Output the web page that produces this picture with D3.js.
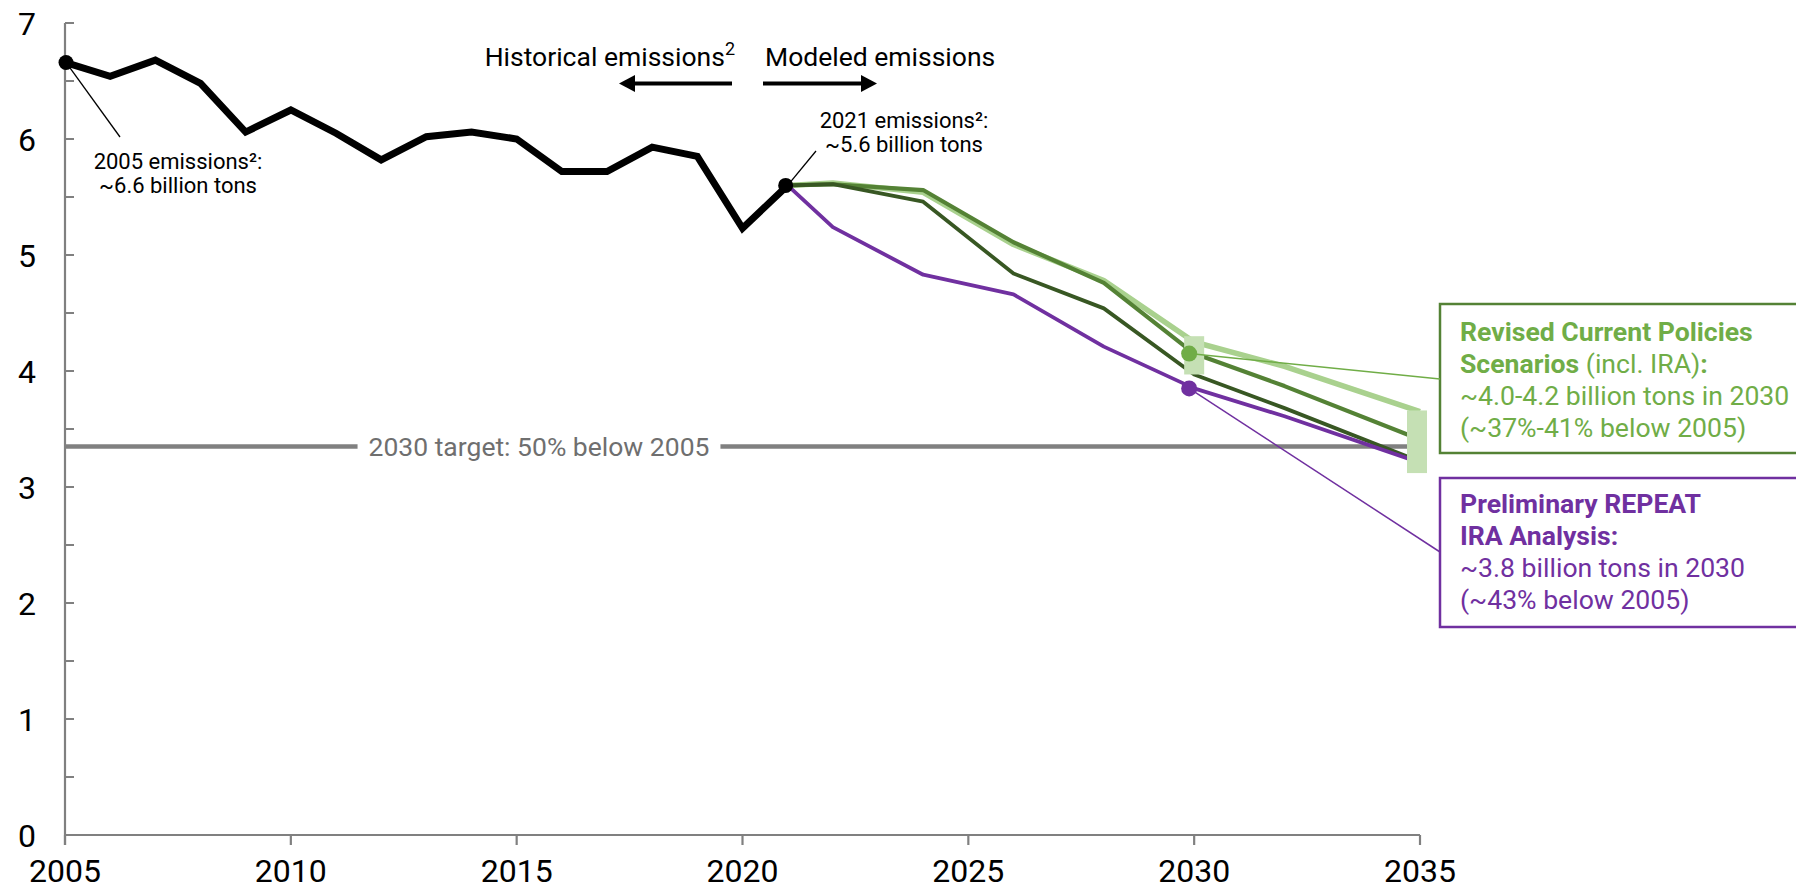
<!DOCTYPE html>
<html><head><meta charset="utf-8">
<script src="https://cdn.jsdelivr.net/npm/d3@7"></script>
<style>
html,body{margin:0;padding:0;background:#fff;}
svg{display:block;font-family:Roboto,"Noto Sans",sans-serif;}
</style></head>
<body>
<svg id="c" width="1796" height="889"></svg>
<script>
// ---- data ----
const histYears = [2005,2006,2007,2008,2009,2010,2011,2012,2013,2014,2015,2016,2017,2018,2019,2020,2021];
const histValues = [6.66,6.54,6.68,6.48,6.06,6.25,6.05,5.82,6.02,6.06,6.00,5.72,5.72,5.93,5.85,5.23,5.60];
const modelYears = [2021,2022,2024,2026,2028,2030,2032,2035];
const repeatValues = [5.60,5.24,4.83,4.66,4.21,3.85,3.61,3.21];
const cpsLight = [5.60,5.62,5.54,5.09,4.78,4.25,4.04,3.65];
const cpsMedium = [5.60,5.61,5.56,5.11,4.76,4.15,3.87,3.41];
const cpsDark = [5.60,5.61,5.46,4.84,4.54,3.97,3.68,3.22];
const rangeYears = [2030,2035];
const rangeLow = [3.97,3.12];
const rangeHigh = [4.30,3.66];
const target2030 = 3.35;
const dot2030Cps = 4.15;
const dot2030Repeat = 3.85;
const xTicks = [2005,2010,2015,2020,2025,2030,2035];
const yTicks = [0,1,2,3,4,5,6,7];
const yMinorTicks = [0.5,1.5,2.5,3.5,4.5,5.5,6.5];

const svg = d3.select("#c");
const x = d3.scaleLinear().domain([2005,2035]).range([65,1420]);
const y = d3.scaleLinear().domain([0,7]).range([835,23]);
const AX = "#808080";

// axes
svg.append("line").attr("x1",x(2005)).attr("x2",x(2035)).attr("y1",y(0)).attr("y2",y(0)).attr("stroke",AX).attr("stroke-width",2.2);
svg.append("line").attr("x1",x(2005)).attr("x2",x(2005)).attr("y1",y(0)+10).attr("y2",y(7)).attr("stroke",AX).attr("stroke-width",2.2);
svg.selectAll(".xt").data(xTicks).enter().append("line")
  .attr("x1",d=>x(d)).attr("x2",d=>x(d)).attr("y1",y(0)).attr("y2",y(0)+10).attr("stroke",AX).attr("stroke-width",2.2);
svg.selectAll(".xl").data(xTicks).enter().append("text")
  .attr("x",d=>x(d)).attr("y",882).attr("text-anchor","middle").attr("font-size",32).attr("fill","#000").text(d=>d);
svg.selectAll(".yt").data(yTicks.concat(yMinorTicks)).enter().append("line")
  .attr("x1",x(2005)).attr("x2",x(2005)+9).attr("y1",d=>y(d)).attr("y2",d=>y(d)).attr("stroke",AX).attr("stroke-width",2);
svg.selectAll(".yl").data(yTicks).enter().append("text")
  .attr("x",36).attr("y",d=>y(d)).attr("dy","0.36em").attr("text-anchor","end").attr("font-size",32).attr("fill","#000").text(d=>d);

// target line
svg.append("line").attr("x1",x(2005)).attr("x2",x(2035)).attr("y1",y(target2030)).attr("y2",y(target2030))
  .attr("stroke","#808080").attr("stroke-width",4.5);
const tl = svg.append("text").attr("x",539).attr("y",y(target2030)).attr("dy","0.36em").attr("text-anchor","middle")
  .attr("font-size",26.5).attr("fill","#6f6f6f").text("2030 target: 50% below 2005");
const bb = tl.node().getBBox();
svg.append("rect").attr("x",bb.x-11).attr("y",bb.y).attr("width",bb.width+22).attr("height",bb.height).attr("fill","#fff");
tl.raise();

// lines
const line = d3.line().x(d=>x(d[0])).y(d=>y(d[1])).curve(d3.curveLinear);
const zip = (a,b)=>a.map((v,i)=>[v,b[i]]);
const series = [
  {v:cpsLight, c:"#a9d18e", w:5.5},
  {v:cpsMedium, c:"#548235", w:4.2},
  {v:cpsDark, c:"#385723", w:3.8},
  {v:repeatValues, c:"#7030a0", w:3.8}
];
series.forEach(s=>{
  svg.append("path").attr("d",line(zip(modelYears,s.v))).attr("fill","none").attr("stroke",s.c)
    .attr("stroke-width",s.w).attr("stroke-linejoin","round").attr("stroke-linecap","butt");
});
svg.append("path").attr("d",line(zip(histYears,histValues))).attr("fill","none").attr("stroke","#000")
  .attr("stroke-width",7).attr("stroke-linejoin","miter");

// range bars
svg.selectAll(".rb").data(rangeYears).enter().append("rect")
  .attr("x",(d,i)=>x(d)-(i?13:10)).attr("width",20)
  .attr("y",(d,i)=>y(rangeHigh[i])).attr("height",(d,i)=>y(rangeLow[i])-y(rangeHigh[i]))
  .attr("fill","#c5e0b4");

// legend boxes
const boxX = 1440;
svg.append("rect").attr("x",boxX).attr("y",304).attr("width",420).attr("height",149).attr("fill","#fff").attr("stroke","#548235").attr("stroke-width",2.5);
svg.append("rect").attr("x",boxX).attr("y",478).attr("width",420).attr("height",149).attr("fill","#fff").attr("stroke","#7030a0").attr("stroke-width",2.5);

// leaders
svg.append("line").attr("x1",x(2030)-5).attr("y1",y(dot2030Cps)).attr("x2",boxX).attr("y2",379).attr("stroke","#70ad47").attr("stroke-width",1.5);
svg.append("line").attr("x1",x(2030)-5).attr("y1",y(dot2030Repeat)).attr("x2",boxX).attr("y2",552).attr("stroke","#7030a0").attr("stroke-width",1.5);
svg.append("line").attr("x1",x(2005)+1).attr("y1",y(histValues[0])).attr("x2",120).attr("y2",137).attr("stroke","#000").attr("stroke-width",1.3);
svg.append("line").attr("x1",x(2021)).attr("y1",y(histValues[16])).attr("x2",816).attr("y2",151).attr("stroke","#000").attr("stroke-width",1.3);

// dots
svg.append("circle").attr("cx",x(2005)+1).attr("cy",y(histValues[0])).attr("r",7.5).attr("fill","#000");
svg.append("circle").attr("cx",x(2021)-2).attr("cy",y(histValues[16])).attr("r",7.5).attr("fill","#000");
svg.append("circle").attr("cx",x(2030)-5).attr("cy",y(dot2030Cps)).attr("r",8).attr("fill","#70ad47");
svg.append("circle").attr("cx",x(2030)-5).attr("cy",y(dot2030Repeat)).attr("r",8).attr("fill","#7030a0");

// legend texts
const gt = svg.append("text").attr("font-size",26.6).attr("fill","#70ad47");
gt.append("tspan").attr("x",1460).attr("y",341).attr("font-weight","bold").text("Revised Current Policies");
const l2 = gt.append("tspan").attr("x",1460).attr("y",373);
l2.append("tspan").attr("font-weight","bold").text("Scenarios");
l2.append("tspan").text(" (incl. IRA)");
l2.append("tspan").attr("font-weight","bold").text(":");
gt.append("tspan").attr("x",1460).attr("y",405).text("~4.0-4.2 billion tons in 2030");
gt.append("tspan").attr("x",1460).attr("y",437).text("(~37%-41% below 2005)");

const pt = svg.append("text").attr("font-size",26.6).attr("fill","#7030a0");
pt.append("tspan").attr("x",1460).attr("y",513).attr("font-weight","bold").text("Preliminary REPEAT");
pt.append("tspan").attr("x",1460).attr("y",545).attr("font-weight","bold").text("IRA Analysis:");
pt.append("tspan").attr("x",1460).attr("y",577).text("~3.8 billion tons in 2030");
pt.append("tspan").attr("x",1460).attr("y",609).text("(~43% below 2005)");

// annotations
const a1 = svg.append("text").attr("font-size",22).attr("fill","#000").attr("text-anchor","middle");
a1.append("tspan").attr("x",178).attr("y",169).text("2005 emissions²:");
a1.append("tspan").attr("x",178).attr("y",193).text("~6.6 billion tons");
const a2 = svg.append("text").attr("font-size",22).attr("fill","#000").attr("text-anchor","middle");
a2.append("tspan").attr("x",904).attr("y",128).text("2021 emissions²:");
a2.append("tspan").attr("x",904).attr("y",152).text("~5.6 billion tons");

const h = svg.append("text").attr("x",735).attr("y",66).attr("text-anchor","end").attr("font-size",26.5).attr("fill","#000");
h.append("tspan").text("Historical emissions");
h.append("tspan").attr("font-size",18).attr("dy",-11).text("2");
svg.append("text").attr("x",765).attr("y",66).attr("font-size",26.5).attr("fill","#000").text("Modeled emissions");

// arrows
svg.append("line").attr("x1",732).attr("x2",632).attr("y1",83.5).attr("y2",83.5).attr("stroke","#000").attr("stroke-width",4);
svg.append("path").attr("d","M619,83.5 L635,75 L635,92 Z").attr("fill","#000");
svg.append("line").attr("x1",763).attr("x2",864).attr("y1",83.5).attr("y2",83.5).attr("stroke","#000").attr("stroke-width",4);
svg.append("path").attr("d","M877,83.5 L861,75 L861,92 Z").attr("fill","#000");
</script>
</body></html>
